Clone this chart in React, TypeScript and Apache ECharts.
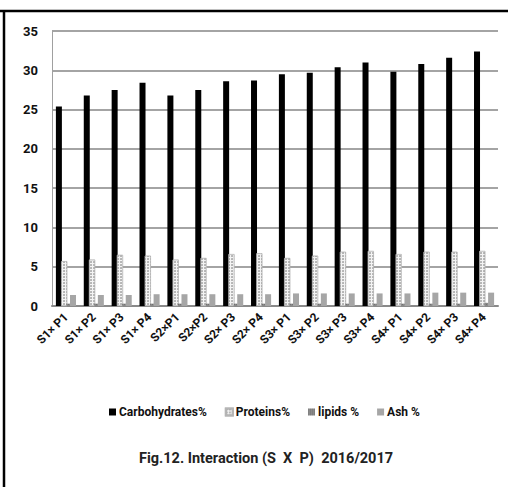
import React, { useEffect, useRef } from "react";
import * as echarts from "echarts";

const categories = [
  "S1× P1", "S1× P2", "S1× P3", "S1× P4",
  "S2×P1", "S2×P2", "S2× P3", "S2× P4",
  "S3× P1", "S3× P2", "S3× P3", "S3× P4",
  "S4× P1", "S4× P2", "S4× P3", "S4× P4",
];
const carbohydrates = [25.4, 26.8, 27.5, 28.4, 26.8, 27.5, 28.6, 28.7, 29.5, 29.7, 30.4, 31.0, 29.8, 30.8, 31.6, 32.4];
const proteins = [5.7, 5.9, 6.5, 6.4, 5.9, 6.1, 6.6, 6.7, 6.1, 6.4, 6.9, 7.0, 6.6, 6.9, 6.9, 7.0];
const lipids = [0.3, 0.3, 0.3, 0.3, 0.3, 0.3, 0.3, 0.3, 0.3, 0.3, 0.3, 0.3, 0.3, 0.3, 0.3, 0.4];
const ash = [1.4, 1.4, 1.4, 1.5, 1.5, 1.5, 1.5, 1.5, 1.6, 1.6, 1.6, 1.6, 1.6, 1.7, 1.7, 1.7];
const yTicks = { min: 0, max: 35, interval: 5 };
const seriesNames = ["Carbohydrates%", "Proteins%", "lipids %", "Ash %"];
const titleText = "Fig.12. Interaction (S  X  P)  2016/2017";

const FONT = "Roboto, 'Liberation Sans', sans-serif";

export default function App() {
  const ref = useRef<HTMLDivElement>(null);
  useEffect(() => {
    if (!ref.current) return;
    const chart = echarts.init(ref.current, null, { renderer: "svg" });
    const bw = 6;
    const gap = "-12%";
    chart.setOption({
      animation: false,
      backgroundColor: "#ffffff",
      textStyle: { fontFamily: FONT },
      title: {
        text: titleText,
        left: 134,
        top: 446,
        textStyle: { fontFamily: FONT, fontSize: 14.5, fontWeight: "bold", color: "#222" },
      },
      legend: {
        left: 104,
        top: 401,
        itemWidth: 7,
        itemHeight: 7,
        itemGap: 18,
        icon: "rect",
        textStyle: { fontFamily: FONT, fontSize: 12, fontWeight: "bold", color: "#111", padding: [0, 0, 0, -2] },
        data: seriesNames,
      },
      grid: { left: 52, right: 10, top: 31, bottom: 181 },
      xAxis: {
        type: "category",
        data: categories,
        axisLine: { show: true, lineStyle: { color: "#8a8a8a", width: 2 } },
        axisTick: { show: false },
        axisLabel: {
          rotate: 45,
          interval: 0,
          margin: 9,
          fontFamily: FONT,
          fontSize: 12,
          fontWeight: "bold",
          color: "#111",
        },
      },
      yAxis: {
        type: "value",
        min: yTicks.min,
        max: yTicks.max,
        interval: yTicks.interval,
        axisLine: { show: true, lineStyle: { color: "#a0a0a0", width: 1 } },
        axisTick: { show: false },
        splitLine: { lineStyle: { color: "#868686", width: 1.5 } },
        axisLabel: { fontFamily: FONT, fontSize: 13, fontWeight: "bold", color: "#111", margin: 14 },
      },
      series: [
        {
          name: seriesNames[0],
          type: "bar",
          data: carbohydrates,
          barWidth: bw,
          barGap: gap,
          itemStyle: { color: "#000000" },
        },
        {
          name: seriesNames[1],
          type: "bar",
          data: proteins,
          barWidth: bw,
          barGap: gap,
          itemStyle: {
            color: "#f4f4f4",
            borderColor: "#b5b5b5",
            borderWidth: 0.5,
            decal: {
              symbol: "circle",
              symbolSize: 0.7,
              dashArrayX: [2, 1],
              dashArrayY: [2, 1],
              color: "#5a5a5a",
            },
          },
        },
        {
          name: seriesNames[2],
          type: "bar",
          data: lipids,
          barWidth: 4,
          barGap: gap,
          itemStyle: {
            color: "#8a8a8a",
            decal: {
              symbol: "rect",
              symbolSize: 0.6,
              dashArrayX: [1, 1],
              dashArrayY: [1, 1],
              color: "#333333",
            },
          },
        },
        {
          name: seriesNames[3],
          type: "bar",
          data: ash,
          barWidth: bw,
          barGap: gap,
          itemStyle: { color: "#a6a6a6" },
        },
      ],
      graphic: [
        { type: "line", shape: { x1: 0, y1: 11, x2: 508, y2: 11 }, style: { stroke: "#000", lineWidth: 2.5 } },
        { type: "line", shape: { x1: 4, y1: 10, x2: 4, y2: 487 }, style: { stroke: "#000", lineWidth: 2.5 } },
      ],
    });
    return () => chart.dispose();
  }, []);
  return (
    <div
      ref={ref}
      style={{ position: "absolute", left: 0, top: 0, width: 508, height: 487 }}
    />
  );
}
